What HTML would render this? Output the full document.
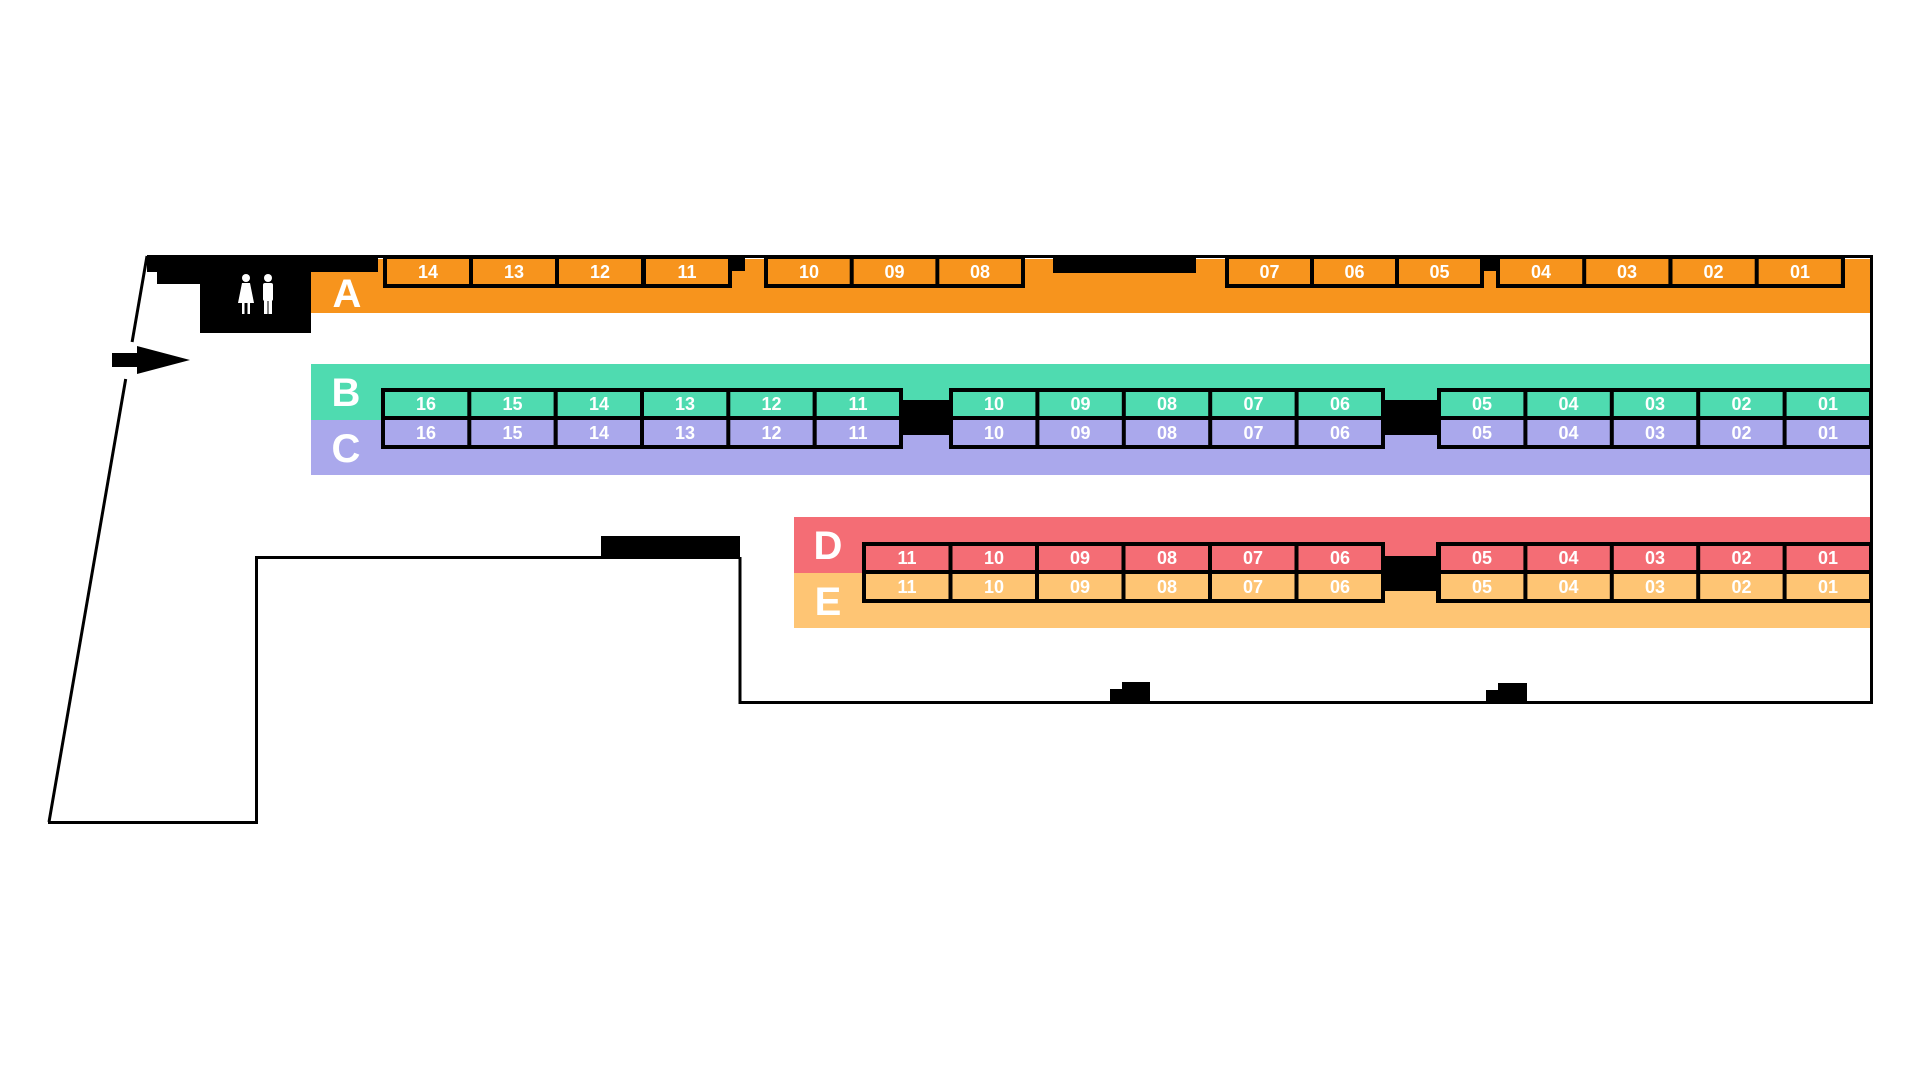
<!DOCTYPE html>
<html><head><meta charset="utf-8"><style>
html,body{margin:0;padding:0;background:#fff;}
svg{display:block}
.n{font-family:"Liberation Sans Narrow","Liberation Sans",sans-serif;font-weight:bold;font-size:18px;fill:#fff;text-anchor:middle}
.L{font-family:"Liberation Sans Narrow","Liberation Sans",sans-serif;font-weight:bold;font-size:40px;fill:#fff;text-anchor:middle}
</style></head><body>
<svg width="1920" height="1080" viewBox="0 0 1920 1080" xmlns="http://www.w3.org/2000/svg">
<rect width="1920" height="1080" fill="#fff"/>
<!-- bands -->
<rect x="378" y="259" width="1493" height="54" fill="#F7941D"/>
<rect x="311" y="272" width="70" height="41" fill="#F7941D"/>
<rect x="311" y="364" width="1560" height="56" fill="#4FDBB0"/>
<rect x="311" y="420" width="1560" height="55" fill="#AAA8EC"/>
<rect x="794" y="517" width="1077" height="56" fill="#F46D75"/>
<rect x="794" y="573" width="1077" height="55" fill="#FEC574"/>
<!-- building outline -->
<g stroke="#000" stroke-width="3" fill="none">
<line x1="147" y1="256.5" x2="1872" y2="256.5"/>
<line x1="1871.5" y1="255" x2="1871.5" y2="703"/>
<line x1="740" y1="702.5" x2="1873" y2="702.5"/>
<line x1="740" y1="557" x2="740" y2="704"/>
<line x1="256" y1="557.5" x2="602" y2="557.5"/>
<line x1="256.5" y1="556" x2="256.5" y2="823"/>
<line x1="48" y1="822.5" x2="258" y2="822.5"/>
<line x1="147" y1="256" x2="132.1" y2="342"/>
<line x1="125.7" y1="379" x2="49" y2="822"/>
</g>
<!-- black blocks -->
<rect x="147" y="255" width="231" height="17" fill="#000"/>
<rect x="157" y="271" width="154" height="13" fill="#000"/>
<rect x="200" y="283" width="111" height="50" fill="#000"/>
<rect x="1053" y="255" width="143" height="18" fill="#000"/>
<rect x="601" y="536" width="139" height="23" fill="#000"/>
<rect x="903" y="400" width="46" height="35" fill="#000"/>
<rect x="1385" y="400" width="52" height="35" fill="#000"/>
<rect x="1385" y="556" width="51" height="35" fill="#000"/>
<path d="M1110 703 V689 H1122 V682 H1150 V703 Z" fill="#000"/>
<path d="M1486 703 V690 H1498 V683 H1527 V703 Z" fill="#000"/>
<rect x="732" y="256" width="13" height="15" fill="#000"/>
<rect x="1484" y="256" width="12" height="15" fill="#000"/>
<!-- arrow -->
<path d="M112 353 H137 V346 L190 360 L137 374 V367 H112 Z" fill="#000"/>
<!-- restroom icons -->
<g fill="#fff">
<circle cx="246" cy="278" r="4"/>
<path d="M242 283 H250 L254 303 H238 Z"/>
<rect x="242" y="302" width="2.5" height="12"/><rect x="247.5" y="302" width="2.5" height="12"/>
<circle cx="268" cy="278" r="4"/>
<rect x="263" y="283" width="10" height="18" rx="2"/>
<rect x="264" y="300" width="3.5" height="14"/><rect x="268.5" y="300" width="3.5" height="14"/>
</g>
<!-- A stalls -->
<g>
<rect x="383" y="256" width="349" height="32" fill="#000"/>
<rect x="387" y="259" width="82" height="25" fill="#F7941D"/><rect x="473" y="259" width="82" height="25" fill="#F7941D"/><rect x="559" y="259" width="82" height="25" fill="#F7941D"/><rect x="646" y="259" width="82" height="25" fill="#F7941D"/>
<text class="n" x="428" y="278">14</text><text class="n" x="514" y="278">13</text><text class="n" x="600" y="278">12</text><text class="n" x="687" y="278">11</text>
<rect x="764" y="256" width="261" height="32" fill="#000"/>
<rect x="768" y="259" width="81.7" height="25" fill="#F7941D"/><rect x="853.7" y="259" width="81.7" height="25" fill="#F7941D"/><rect x="939.3" y="259" width="81.7" height="25" fill="#F7941D"/>
<text class="n" x="809" y="278">10</text><text class="n" x="894.5" y="278">09</text><text class="n" x="980" y="278">08</text>
<rect x="1225" y="256" width="259" height="32" fill="#000"/>
<rect x="1229" y="259" width="81" height="25" fill="#F7941D"/><rect x="1314" y="259" width="81" height="25" fill="#F7941D"/><rect x="1399" y="259" width="81" height="25" fill="#F7941D"/>
<text class="n" x="1269.5" y="278">07</text><text class="n" x="1354.5" y="278">06</text><text class="n" x="1439.5" y="278">05</text>
<rect x="1496" y="256" width="349" height="32" fill="#000"/>
<rect x="1500" y="259" width="82.2" height="25" fill="#F7941D"/><rect x="1586.2" y="259" width="82.2" height="25" fill="#F7941D"/><rect x="1672.5" y="259" width="82.2" height="25" fill="#F7941D"/><rect x="1758.7" y="259" width="82.2" height="25" fill="#F7941D"/>
<text class="n" x="1541" y="278">04</text><text class="n" x="1627" y="278">03</text><text class="n" x="1713.5" y="278">02</text><text class="n" x="1800" y="278">01</text>
</g>
<!-- B/C stalls -->
<g>
<rect x="381" y="388" width="522" height="61" fill="#000"/>
<rect x="949" y="388" width="436" height="61" fill="#000"/>
<rect x="1437" y="388" width="436" height="61" fill="#000"/>
<g fill="#4FDBB0">
<rect x="385" y="392" width="82.3" height="24"/><rect x="471.3" y="392" width="82.3" height="24"/><rect x="557.7" y="392" width="82.3" height="24"/><rect x="644" y="392" width="82.3" height="24"/><rect x="730.3" y="392" width="82.3" height="24"/><rect x="816.7" y="392" width="82.3" height="24"/>
<rect x="953" y="392" width="82.4" height="24"/><rect x="1039.4" y="392" width="82.4" height="24"/><rect x="1125.8" y="392" width="82.4" height="24"/><rect x="1212.2" y="392" width="82.4" height="24"/><rect x="1298.6" y="392" width="82.4" height="24"/>
<rect x="1441" y="392" width="82.4" height="24"/><rect x="1527.4" y="392" width="82.4" height="24"/><rect x="1613.8" y="392" width="82.4" height="24"/><rect x="1700.2" y="392" width="82.4" height="24"/><rect x="1786.6" y="392" width="82.4" height="24"/>
</g>
<g fill="#AAA8EC">
<rect x="385" y="420" width="82.3" height="25"/><rect x="471.3" y="420" width="82.3" height="25"/><rect x="557.7" y="420" width="82.3" height="25"/><rect x="644" y="420" width="82.3" height="25"/><rect x="730.3" y="420" width="82.3" height="25"/><rect x="816.7" y="420" width="82.3" height="25"/>
<rect x="953" y="420" width="82.4" height="25"/><rect x="1039.4" y="420" width="82.4" height="25"/><rect x="1125.8" y="420" width="82.4" height="25"/><rect x="1212.2" y="420" width="82.4" height="25"/><rect x="1298.6" y="420" width="82.4" height="25"/>
<rect x="1441" y="420" width="82.4" height="25"/><rect x="1527.4" y="420" width="82.4" height="25"/><rect x="1613.8" y="420" width="82.4" height="25"/><rect x="1700.2" y="420" width="82.4" height="25"/><rect x="1786.6" y="420" width="82.4" height="25"/>
</g>
<text class="n" x="426" y="410">16</text><text class="n" x="512.5" y="410">15</text><text class="n" x="599" y="410">14</text><text class="n" x="685" y="410">13</text><text class="n" x="771.5" y="410">12</text><text class="n" x="858" y="410">11</text>
<text class="n" x="994" y="410">10</text><text class="n" x="1080.5" y="410">09</text><text class="n" x="1167" y="410">08</text><text class="n" x="1253.5" y="410">07</text><text class="n" x="1340" y="410">06</text>
<text class="n" x="1482" y="410">05</text><text class="n" x="1568.5" y="410">04</text><text class="n" x="1655" y="410">03</text><text class="n" x="1741.5" y="410">02</text><text class="n" x="1828" y="410">01</text>
<text class="n" x="426" y="439">16</text><text class="n" x="512.5" y="439">15</text><text class="n" x="599" y="439">14</text><text class="n" x="685" y="439">13</text><text class="n" x="771.5" y="439">12</text><text class="n" x="858" y="439">11</text>
<text class="n" x="994" y="439">10</text><text class="n" x="1080.5" y="439">09</text><text class="n" x="1167" y="439">08</text><text class="n" x="1253.5" y="439">07</text><text class="n" x="1340" y="439">06</text>
<text class="n" x="1482" y="439">05</text><text class="n" x="1568.5" y="439">04</text><text class="n" x="1655" y="439">03</text><text class="n" x="1741.5" y="439">02</text><text class="n" x="1828" y="439">01</text>
</g>
<!-- D/E stalls -->
<g>
<rect x="862" y="542" width="523" height="61" fill="#000"/>
<rect x="1436" y="542" width="437" height="61" fill="#000"/>
<g fill="#F46D75">
<rect x="866" y="546" width="82.5" height="24"/><rect x="952.5" y="546" width="82.5" height="24"/><rect x="1039" y="546" width="82.5" height="24"/><rect x="1125.5" y="546" width="82.5" height="24"/><rect x="1212" y="546" width="82.5" height="24"/><rect x="1298.5" y="546" width="82.5" height="24"/>
<rect x="1441" y="546" width="82.4" height="24"/><rect x="1527.4" y="546" width="82.4" height="24"/><rect x="1613.8" y="546" width="82.4" height="24"/><rect x="1700.2" y="546" width="82.4" height="24"/><rect x="1786.6" y="546" width="82.4" height="24"/>
</g>
<g fill="#FEC574">
<rect x="866" y="574" width="82.5" height="25"/><rect x="952.5" y="574" width="82.5" height="25"/><rect x="1039" y="574" width="82.5" height="25"/><rect x="1125.5" y="574" width="82.5" height="25"/><rect x="1212" y="574" width="82.5" height="25"/><rect x="1298.5" y="574" width="82.5" height="25"/>
<rect x="1441" y="574" width="82.4" height="25"/><rect x="1527.4" y="574" width="82.4" height="25"/><rect x="1613.8" y="574" width="82.4" height="25"/><rect x="1700.2" y="574" width="82.4" height="25"/><rect x="1786.6" y="574" width="82.4" height="25"/>
</g>
<text class="n" x="907" y="564">11</text><text class="n" x="994" y="564">10</text><text class="n" x="1080" y="564">09</text><text class="n" x="1167" y="564">08</text><text class="n" x="1253" y="564">07</text><text class="n" x="1340" y="564">06</text>
<text class="n" x="1482" y="564">05</text><text class="n" x="1568.5" y="564">04</text><text class="n" x="1655" y="564">03</text><text class="n" x="1741.5" y="564">02</text><text class="n" x="1828" y="564">01</text>
<text class="n" x="907" y="593">11</text><text class="n" x="994" y="593">10</text><text class="n" x="1080" y="593">09</text><text class="n" x="1167" y="593">08</text><text class="n" x="1253" y="593">07</text><text class="n" x="1340" y="593">06</text>
<text class="n" x="1482" y="593">05</text><text class="n" x="1568.5" y="593">04</text><text class="n" x="1655" y="593">03</text><text class="n" x="1741.5" y="593">02</text><text class="n" x="1828" y="593">01</text>
</g>
<!-- row letters -->
<text class="L" x="347" y="307">A</text>
<text class="L" x="346" y="406">B</text>
<text class="L" x="346" y="462">C</text>
<text class="L" x="828" y="559">D</text>
<text class="L" x="828" y="615">E</text>
</svg>
</body></html>
